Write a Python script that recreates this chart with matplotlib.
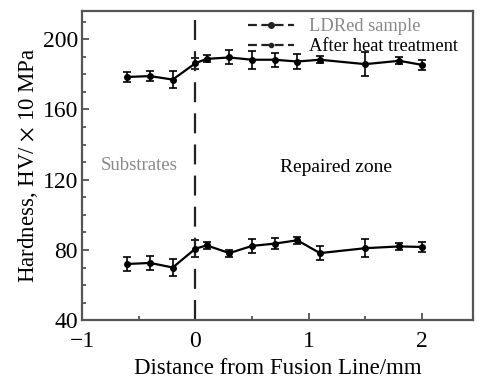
import numpy as np
import matplotlib
matplotlib.use("Agg")
import matplotlib.pyplot as plt
from matplotlib.lines import Line2D
from matplotlib.ticker import MultipleLocator

plt.rcParams["font.family"] = ["Liberation Serif", "DejaVu Serif"]
plt.rcParams["mathtext.fontset"] = "stix"

# -------------------- data --------------------
dist = [-0.6, -0.4, -0.2, 0.0, 0.1, 0.3, 0.5, 0.7, 0.9, 1.1, 1.5, 1.8, 2.0]
hv_ldred = [178.5, 179, 177, 186.3, 188.8, 189.6, 188.3, 188.3, 187.3, 188.3, 185.8, 187.7, 185.4]
err_ldred = [3, 3, 5, 3, 2, 4, 5, 4, 4, 2, 7, 2, 3]
hv_heat = [72, 72.6, 70, 80.7, 82.6, 78.2, 82.3, 83.6, 85.5, 78.2, 81, 82, 81.7]
err_heat = [4, 4, 5, 5, 2, 2, 4, 3, 2, 4, 5, 2, 3]

fig = plt.figure(figsize=(4.83, 3.83), dpi=100)
ax = fig.add_axes([0.170, 0.164, 0.809, 0.807])

for y, e in ((hv_ldred, err_ldred), (hv_heat, err_heat)):
    ax.errorbar(dist, y, yerr=e, color="black", lw=1.6, marker="o", ms=4,
                elinewidth=1.2, capsize=3, capthick=1.2)

# fusion line
ax.axvline(0, color="#222222", lw=1.6, ls=(0, (9, 5)))

ax.set_xlim(-1, 2.45)
ax.set_ylim(40, 216)
ax.set_xticks([-1, 0, 1, 2])
ax.set_xticklabels(["\u22121", "0", "1", "2"])
ax.set_yticks([40, 80, 120, 160, 200])
ax.xaxis.set_minor_locator(MultipleLocator(0.5))
ax.yaxis.set_minor_locator(MultipleLocator(10))
ax.tick_params(which="both", direction="in", labelsize=17, color="#444444")
ax.tick_params(axis="x", pad=8)
ax.tick_params(axis="y", pad=3)
ax.tick_params(which="major", length=5, width=1.2)
ax.tick_params(which="minor", length=3, width=1.2)
for s in ax.spines.values():
    s.set_color("#555555")
    s.set_linewidth(1.6)

ax.set_xlabel("Distance from Fusion Line/mm", fontsize=16.5, labelpad=4)
ax.set_ylabel("Hardness, HV/ $\\times$ 10 MPa", fontsize=16.5, labelpad=2)

ax.text(-0.5, 128, "Substrates", fontsize=13.5, color="#888888", ha="center", va="center")
ax.text(1.24, 127, "Repaired zone", fontsize=14, color="black", ha="center", va="center")

handles = [Line2D([], [], color="#222222", lw=1.6, ls=(0, (4, 2)), marker="o", ms=4),
           Line2D([], [], color="#222222", lw=1.6, ls=(0, (4, 2)), marker="o", ms=3)]
leg = ax.legend(handles, ["LDRed sample", "After heat treatment"], loc="upper left",
                bbox_to_anchor=(0.405, 1.0), frameon=False, fontsize=13.3,
                handlelength=2.5, handletextpad=0.8, labelspacing=0.15,
                borderaxespad=0.1, borderpad=0.3)
leg.get_texts()[0].set_color("#888888")

fig.savefig("out.png", dpi=100)
